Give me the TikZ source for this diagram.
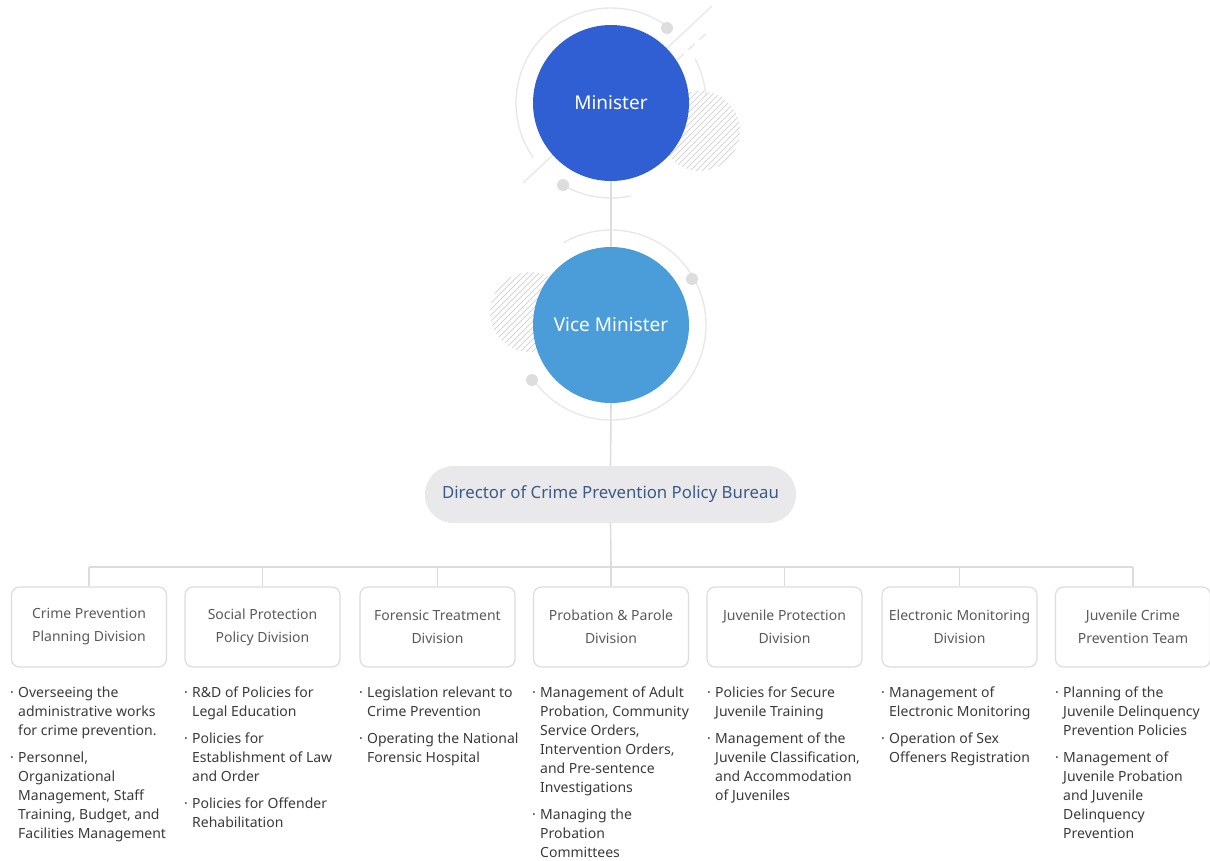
\documentclass[tikz,border=0pt]{standalone}
\usepackage{fontspec}
\setmainfont{Noto Sans}
\definecolor{minblue}{HTML}{2F5FD3}
\definecolor{viceblue}{HTML}{4A9DD8}
\definecolor{linegray}{HTML}{DCDCDC}
\definecolor{deco}{HTML}{E8E8E8}
\definecolor{decodot}{HTML}{DDDDDD}
\definecolor{hatchgray}{HTML}{D6D6D6}
\definecolor{pillgray}{HTML}{E9E9EB}
\definecolor{dirtext}{HTML}{3C5A86}
\definecolor{boxtext}{HTML}{5A5A5A}
\definecolor{bodytext}{HTML}{3A3A3A}

% one bullet item with its own hanging lines
\newcommand{\litem}[1]{\makebox[8pt][l]{·}\begin{tabular}[t]{@{}l@{}}#1\end{tabular}}

\tikzset{
  conn/.style={draw=linegray, line width=1.6pt},
  ring/.style={draw=deco, line width=1.4pt},
  hatch/.style={draw=hatchgray, line width=1pt},
  decodotstyle/.style={fill=decodot, draw=none},
  head/.style={circle, minimum size=156pt, inner sep=0pt, text=white,
    font=\fontsize{19}{23}\selectfont},
  bureau/.style={rectangle, rounded corners=28pt, fill=pillgray, minimum width=371pt,
    minimum height=57pt, inner sep=0pt, text=dirtext, font=\fontsize{16.8}{20}\selectfont},
  division/.style={draw=linegray, line width=1.2pt, rounded corners=8pt, fill=white,
    minimum width=155pt, minimum height=80pt, inner sep=0pt, align=center,
    text=boxtext, font=\fontsize{14}{23}\selectfont},
  duties/.style={anchor=north west, align=left, inner sep=0pt, text=bodytext,
    font=\fontsize{14}{19}\selectfont},
}

\begin{document}
\begin{tikzpicture}[x=1pt,y=-1pt]
\useasboundingbox (0,0) rectangle (1210,860);

% ---- decoration behind the Minister circle
\draw[ring] (523,183) -- (712,6);
\draw[ring, dash pattern=on 9pt off 6pt] (677,60) -- (710,30);
\draw[ring] (611,103) ++(-53:95) arc[start angle=-53, end angle=-215, radius=95];
\draw[ring] (611,103) ++(-239:95) arc[start angle=-239, end angle=-282, radius=95];
\draw[ring] (611,103) ++(-5:95) arc[start angle=-5, end angle=-28, radius=95];
\fill[decodotstyle] (667,28) circle[radius=6];
\fill[decodotstyle] (563,185) circle[radius=6];
\begin{scope}
  \clip (700,131) circle[radius=40];
  \foreach \i in {-90,-84,...,90}
    \draw[hatch] (700+\i-50,181) -- (700+\i+50,81);
\end{scope}

% ---- decoration behind the Vice Minister circle
\draw[ring] (611,325) ++(-215:95) arc[start angle=-215, end angle=-480, radius=95];
\fill[decodotstyle] (692,279) circle[radius=6];
\fill[decodotstyle] (532,380) circle[radius=6];
\begin{scope}
  \clip (530,312) circle[radius=40];
  \foreach \i in {-90,-84,...,90}
    \draw[hatch] (530+\i-50,362) -- (530+\i+50,262);
\end{scope}

% ---- top of the hierarchy
\node[head, fill=minblue] (min) at (611,103) {Minister};
\node[head, fill=viceblue] (vice) at (611,325) {Vice Minister};
\node[bureau] (dir) at (610.5,494.5) {Director of Crime Prevention Policy Bureau};

% ---- divisions
\node[division] (b1) at (89,627)    {Crime Prevention\\Planning Division};
\node[division] (b2) at (262.5,627) {Social Protection\\Policy Division};
\node[division] (b3) at (437.5,627) {Forensic Treatment\\Division};
\node[division] (b4) at (611,627)   {Probation \& Parole\\Division};
\node[division] (b5) at (784.5,627) {Juvenile Protection\\Division};
\node[division] (b6) at (959.5,627) {Electronic Monitoring\\Division};
\node[division] (b7) at (1133,627)  {Juvenile Crime\\Prevention Team};

% ---- connectors
\coordinate (bus) at (611,567);
\draw[conn] (min.south) -- (vice.north);
\draw[conn] (vice.south) -- (dir.north);
\draw[conn] (dir.south) -- (bus);
\draw[conn] (b1.north |- bus) -- (b7.north |- bus);
\foreach \b in {b1,b2,b3,b4,b5,b6,b7}
  \draw[conn] (\b.north |- bus) -- (\b.north);

% ---- duties of each division (first baseline at y = 697)
\node[duties] (d1) at (10,683.7) {%
  \litem{Overseeing the\\administrative works\\for crime prevention.}\\[7pt]
  \litem{Personnel,\\Organizational\\Management, Staff\\Training, Budget, and\\Facilities Management}};
\node[duties] (d2) at (184,683.7) {%
  \litem{R\&D of Policies for\\Legal Education}\\[7pt]
  \litem{Policies for\\Establishment of Law\\and Order}\\[7pt]
  \litem{Policies for Offender\\Rehabilitation}};
\node[duties] (d3) at (359,683.7) {%
  \litem{Legislation relevant to\\Crime Prevention}\\[7pt]
  \litem{Operating the National\\Forensic Hospital}};
\node[duties] (d4) at (532,683.7) {%
  \litem{Management of Adult\\Probation, Community\\Service Orders,\\Intervention Orders,\\and Pre-sentence\\Investigations}\\[7pt]
  \litem{Managing the\\Probation\\Committees}};
\node[duties] (d5) at (707,683.7) {%
  \litem{Policies for Secure\\Juvenile Training}\\[7pt]
  \litem{Management of the\\Juvenile Classification,\\and Accommodation\\of Juveniles}};
\node[duties] (d6) at (881,683.7) {%
  \litem{Management of\\Electronic Monitoring}\\[7pt]
  \litem{Operation of Sex\\Offeners Registration}};
\node[duties] (d7) at (1055,683.7) {%
  \litem{Planning of the\\Juvenile Delinquency\\Prevention Policies}\\[7pt]
  \litem{Management of\\Juvenile Probation\\and Juvenile\\Delinquency\\Prevention}};
\end{tikzpicture}
\end{document}
